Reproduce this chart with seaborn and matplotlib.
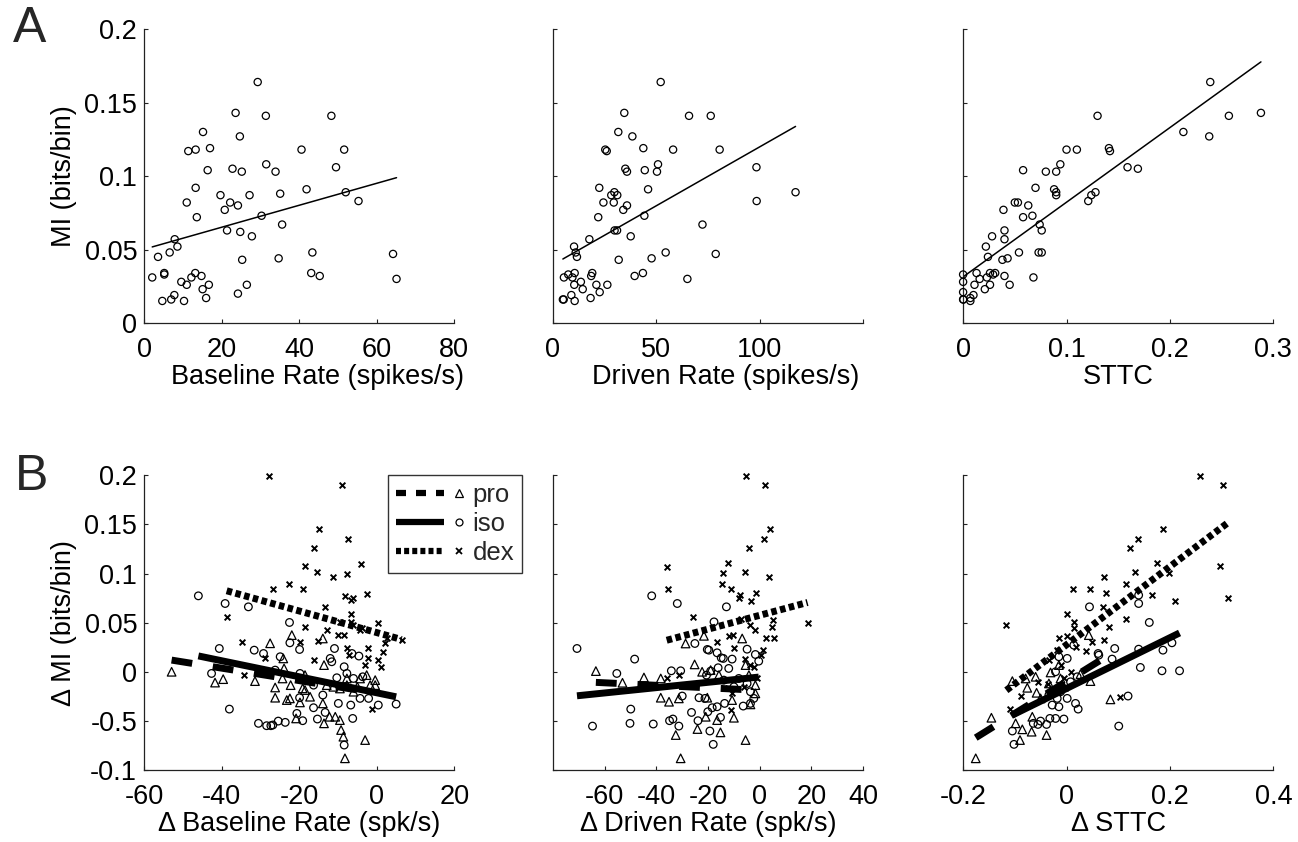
import matplotlib
matplotlib.use('Agg')
import matplotlib.pyplot as plt
from matplotlib.lines import Line2D
from matplotlib.legend_handler import HandlerBase
import numpy as np
import seaborn as sns

############### data: row A (MI vs. rate / STTC) ###############
base_rate = [2.1, 3.6, 4.7, 5.2, 5.2, 6.6, 7.0, 7.8, 7.9, 8.6, 9.6, 10.3, 11.0, 11.0, 11.4,
             12.2, 13.3, 13.3, 13.2, 13.6, 14.8, 15.2, 15.1, 16.0, 16.7, 16.4, 17.0, 19.7,
             20.8, 21.4, 22.2, 22.8, 23.6, 24.2, 24.2, 24.7, 24.8, 25.2, 25.3, 26.5, 27.2,
             27.8, 29.3, 30.3, 31.4, 31.5, 33.9, 34.7, 35.1, 35.6, 40.6, 41.9, 43.1, 43.4,
             45.3, 48.3, 49.5, 51.6, 52.0, 55.3, 64.2, 65.1]
base_mi = [0.031, 0.045, 0.015, 0.034, 0.033, 0.048, 0.016, 0.019, 0.057, 0.052, 0.028, 0.015,
           0.026, 0.082, 0.117, 0.031, 0.118, 0.092, 0.034, 0.072, 0.032, 0.130, 0.023, 0.017,
           0.026, 0.104, 0.119, 0.087, 0.077, 0.063, 0.082, 0.105, 0.143, 0.080, 0.020, 0.127,
           0.062, 0.103, 0.043, 0.026, 0.087, 0.059, 0.164, 0.073, 0.141, 0.108, 0.103, 0.044,
           0.088, 0.067, 0.118, 0.091, 0.034, 0.048, 0.032, 0.141, 0.106, 0.118, 0.089, 0.083,
           0.047, 0.030]

driven_rate = [4.8, 5.2, 5.3, 7.4, 8.9, 9.4, 10.2, 10.5, 10.3, 10.5, 11.0, 11.6, 13.5, 14.4,
               17.6, 18.2, 18.5, 19.0, 21.0, 21.9, 22.4, 22.6, 24.4, 25.3, 26.0, 26.3, 28.2,
               29.4, 29.7, 29.8, 31.0, 31.1, 31.6, 31.8, 34.0, 34.5, 35.0, 35.8, 35.8, 37.6,
               38.4, 39.5, 43.5, 43.7, 44.2, 44.4, 46.0, 47.7, 50.3, 50.8, 52.1, 54.5, 58.1,
               65.0, 65.8, 72.3, 76.3, 78.7, 80.6, 98.4, 98.5, 117.3]
driven_mi = [0.016, 0.016, 0.031, 0.033, 0.019, 0.031, 0.052, 0.034, 0.026, 0.015, 0.048, 0.045,
             0.028, 0.023, 0.057, 0.017, 0.032, 0.034, 0.026, 0.072, 0.092, 0.021, 0.082, 0.118,
             0.117, 0.026, 0.087, 0.082, 0.089, 0.063, 0.063, 0.087, 0.130, 0.043, 0.077, 0.143,
             0.105, 0.103, 0.080, 0.059, 0.127, 0.032, 0.034, 0.119, 0.073, 0.104, 0.091, 0.044,
             0.103, 0.108, 0.164, 0.048, 0.118, 0.030, 0.141, 0.067, 0.141, 0.047, 0.118, 0.106,
             0.083, 0.089]

sttc = [0.0, 0.0, 0.0, 0.0, 0.0003, 0.007, 0.007, 0.010, 0.011, 0.013, 0.016, 0.021, 0.022,
        0.023, 0.024, 0.026, 0.026, 0.028, 0.029, 0.031, 0.038, 0.039, 0.040, 0.040, 0.040,
        0.043, 0.045, 0.050, 0.053, 0.054, 0.058, 0.058, 0.063, 0.067, 0.068, 0.070, 0.073,
        0.074, 0.076, 0.076, 0.080, 0.088, 0.090, 0.090, 0.090, 0.094, 0.100, 0.110, 0.121,
        0.124, 0.128, 0.130, 0.141, 0.142, 0.159, 0.169, 0.213, 0.238, 0.239, 0.257, 0.288]
sttc_mi = [0.033, 0.028, 0.021, 0.016, 0.016, 0.015, 0.017, 0.019, 0.026, 0.034, 0.030, 0.023,
           0.052, 0.031, 0.045, 0.026, 0.034, 0.059, 0.033, 0.034, 0.043, 0.077, 0.057, 0.063,
           0.032, 0.044, 0.026, 0.082, 0.082, 0.048, 0.072, 0.104, 0.080, 0.073, 0.031, 0.092,
           0.048, 0.067, 0.048, 0.063, 0.103, 0.091, 0.103, 0.089, 0.087, 0.108, 0.118, 0.118,
           0.083, 0.087, 0.089, 0.141, 0.119, 0.117, 0.106, 0.105, 0.130, 0.127, 0.164, 0.141,
           0.143]

# regression lines (slope, intercept)
a_slope = [0.000748, 0.000802, 0.508]
a_icept = [0.0502, 0.0397, 0.0314]

############### data: row B (changes, per drug) ###############
# d baseline rate
b1_pro_x = [-52.9, -41.7, -39.6, -31.4, -27.5, -26.2, -26.2, -24.1, -23.9, -24.3, -23.2, -22.4,
            -21.9, -22.2, -20.8, -19.8, -19.1, -18.5, -17.2, -13.9, -13.6, -13.9, -13.6, -12.9,
            -12.2, -10.7, -9.5, -9.2, -8.6, -8.2, -7.7, -6.0, -4.3, -3.0, -2.6, -1.7, -0.4,
            -0.4, -18.5, -11.2, -9.5, -7.7, -5.0]
b1_pro_y = [0.0, -0.011, -0.0075, -0.0095, 0.029, -0.016, -0.0264, 0.0136, 0.0034, -0.0068,
            -0.0288, -0.0271, 0.0373, -0.0136, -0.0475, -0.0312, -0.0169, -0.0034, -0.0254,
            0.0339, 0.0068, -0.0322, -0.0525, -0.0136, -0.0458, -0.0458, -0.0492, -0.0593,
            -0.0661, -0.0881, -0.0068, -0.0203, -0.0068, -0.0695, -0.0034, -0.0136, -0.0085,
            -0.0136, -0.0186, -0.0153, -0.017, -0.0136, -0.0153]
b1_iso_x = [-46.0, -39.1, -42.6, -40.6, -38.0, -33.1, -31.6, -29.2, -30.5, -28.4, -27.3, -26.8,
            -25.4, -23.6, -26.2, -24.9, -22.5, -22.4, -19.9, -19.8, -20.6, -19.1, -19.9, -16.3,
            -15.3, -13.9, -13.3, -12.0, -11.6, -10.9, -10.3, -9.9, -8.4, -7.7, -6.7, -6.2,
            -6.4, -4.6, -3.6, -2.1, 0.4, 5.0, -8.4, -6.0, -4.3, -16.3]
b1_iso_y = [0.0773, 0.0695, -0.0017, 0.0237, -0.038, 0.0661, 0.022, 0.0186, -0.0525, -0.0549,
            -0.0549, -0.0542, -0.0502, -0.0515, 0.0017, 0.0153, 0.0502, 0.0295, 0.0227, -0.0017,
            -0.0424, -0.0498, -0.0264, -0.0366, -0.0481, -0.0237, -0.0414, 0.0136, 0.0102,
            0.0237, -0.0061, -0.0322, 0.0051, -0.0017, -0.0339, -0.0475, 0.0186, 0.016, -0.0051,
            -0.0271, -0.0339, -0.0329, -0.0746, -0.0068, -0.0271, -0.0136]
b1_dex_x = [-27.9, -9.0, -15.0, -7.3, -16.2, -4.0, -18.5, -15.5, -11.4, -7.6, -26.8, -22.6,
            -19.1, -2.6, -8.3, -6.7, -6.0, -38.7, -13.3, -6.7, -9.5, -6.6, 0.3, -18.5, -12.7,
            -3.9, -34.8, -28.8, -34.2, -19.8, -15.2, -9.9, -8.4, -7.7, -2.3, -2.3, 1.5, 0.3,
            1.1, 2.1, 2.6, 6.4, -16.3, -3.0, -1.1, -4.3, -6.0, -7.1]
b1_dex_y = [0.1993, 0.1898, 0.1458, 0.1349, 0.1261, 0.1102, 0.1075, 0.1017, 0.0966, 0.1, 0.0847,
            0.0892, 0.0841, 0.079, 0.0773, 0.0729, 0.0746, 0.0553, 0.0661, 0.0593, 0.0502,
            0.0508, 0.0492, 0.0458, 0.0424, 0.0441, 0.0305, 0.0136, -0.0034, 0.0305, 0.0312,
            0.0373, 0.0373, 0.0244, 0.0237, 0.0136, 0.0203, 0.0119, 0.0051, 0.0288, 0.0339,
            0.0322, 0.0119, 0.0068, -0.038, 0.0424, 0.0475, 0.0169]

# d driven rate
b2_pro_x = [-63.4, -53.1, -44.8, -38.3, -38.3, -35.1, -31.3, -28.7, -25.2, -22.3, -21.6, -20.3,
            -20.9, -24.1, -32.5, -30.6, -16.5, -15.2, -10.0, -10.7, -6.8, -5.5, -3.6, -1.7,
            -5.5, -1.7, -19.0, -15.8, -4.2]
b2_pro_y = [0.0007, -0.0112, -0.0058, -0.0068, -0.0264, -0.0305, -0.0271, 0.0288, 0.0075, 0.0,
            0.0366, -0.0264, -0.0458, -0.0583, -0.0644, -0.0881, -0.0492, -0.0617, -0.0468,
            -0.0288, 0.0339, -0.0695, -0.0332, -0.022, 0.0068, -0.0136, 0.0017, -0.0034, -0.0034]
b2_iso_x = [-70.7, -64.7, -55.3, -48.4, -49.9, -50.2, -41.2, -41.8, -31.9, -34.2, -30.6, -30.0,
            -31.3, -34.9, -33.6, -26.4, -23.9, -23.5, -21.2, -25.1, -17.7, -20.3, -19.7, -16.5,
            -14.9, -14.1, -10.7, -12.0, -16.1, -19.0, -12.9, -20.6, -20.1, -18.4, -16.5, -13.6,
            -19.3, -18.0, -15.2, -6.4, -4.9, -1.7, -0.4, -4.9, -3.6, -10.0, -8.1, -2.3, -13.9, -3.6]
b2_iso_y = [0.0237, -0.0553, -0.0017, 0.0129, -0.038, -0.0525, -0.0532, 0.0773, 0.0695, 0.001,
            0.001, -0.0247, -0.0553, -0.0498, -0.0481, -0.0414, -0.0498, -0.0264, -0.0271,
            0.0288, 0.0508, 0.0227, 0.022, 0.0193, 0.0142, 0.0136, 0.0129, 0.0034, 0.0041,
            0.0007, 0.0661, -0.0034, -0.0407, -0.0366, -0.0356, -0.0322, -0.0603, -0.0739,
            -0.0464, -0.0349, 0.023, 0.0176, 0.0108, -0.0119, -0.0203, -0.0153, -0.0068, -0.0271,
            -0.0085, -0.0322]
b2_dex_x = [-5.3, 1.9, 4.1, 1.8, -4.0, -12.3, -14.3, -5.9, -36.0, -35.5, -14.8, -11.3, 3.7, -8.1,
            -7.7, -1.3, -3.2, -25.7, -7.1, -3.6, -1.7, 5.1, 4.7, 5.7, 2.6, 18.5, -16.5, -11.9,
            -10.3, -9.8, -5.8, -3.6, 1.2, 0.3, -35.8, -31.3, -10.7, -11.3, -2.1, -6.2, -1.0, -13.9]
b2_dex_y = [0.1993, 0.1898, 0.1458, 0.1349, 0.1261, 0.1108, 0.1007, 0.1017, 0.1068, 0.0847,
            0.0892, 0.0841, 0.0966, 0.0756, 0.078, 0.0797, 0.0722, 0.0553, 0.0542, 0.0481,
            0.0424, 0.0525, 0.0451, 0.0339, 0.0339, 0.0492, 0.0305, 0.0366, 0.0373, 0.0244,
            0.0125, 0.0068, 0.022, 0.0169, -0.0068, -0.0034, -0.022, -0.039, 0.0044, -0.0153,
            -0.0068, -0.0163]

# d STTC
b3_pro_x = [-0.1756, -0.1453, -0.09, -0.0984, -0.0855, -0.0675, -0.0386, -0.0662, -0.1048,
            -0.0759, -0.0579, -0.0598, -0.0309, -0.0341, -0.0148, 0.0431, 0.027, 0.0463, 0.0849,
            -0.0116, -0.0051, -0.0502, -0.0791]
b3_pro_y = [-0.0881, -0.0468, -0.0695, -0.0525, -0.0586, -0.061, -0.0644, -0.0458, -0.0095,
            -0.0163, -0.0214, -0.0051, -0.0007, -0.0119, 0.0068, 0.0373, -0.0024, -0.0095,
            -0.0281, -0.0068, -0.0153, -0.0271, -0.0068]
b3_iso_x = [0.0444, 0.1395, 0.1395, 0.1601, 0.0932, 0.1395, 0.1865, 0.2039, 0.1428, 0.1846,
            0.2186, 0.119, 0.101, 0.0881, 0.0624, 0.0611, 0.0174, 0.0225, -0.0051, -0.0148,
            -0.0212, -0.0322, -0.0386, -0.0502, -0.0553, -0.0643, -0.1048, -0.1016, -0.0277,
            -0.0341, -0.018, 0.0013, -0.0116, 0.0077, 0.0141, 0.0013, -0.0148, -0.0212, 0.0206]
b3_iso_y = [0.0661, 0.078, 0.0695, 0.0502, 0.0237, 0.023, 0.022, 0.0295, 0.0044, 0.001, 0.001,
            -0.0247, -0.0553, 0.0129, 0.0169, 0.0186, -0.0322, -0.038, -0.0481, -0.0356, -0.0475,
            -0.0475, -0.0536, -0.0502, -0.0536, -0.0525, -0.0603, -0.0739, -0.0339, -0.0237,
            -0.0271, -0.0271, -0.0203, -0.0102, 0.0271, 0.0136, 0.0153, 0.0, -0.0051]
b3_dex_x = [0.2585, 0.3035, 0.1865, 0.1383, 0.1235, 0.1749, 0.1331, 0.1974, 0.2971, 0.3132,
            0.209, 0.0733, 0.1151, 0.1653, 0.0765, 0.0129, 0.045, 0.0701, 0.1151, 0.0817, 0.0733,
            -0.1164, 0.0, 0.0141, 0.0141, 0.0495, 0.0386, -0.0148, 0.0013, 0.0174, -0.0887,
            -0.1093, -0.0553, -0.036, 0.1042, -0.0341, -0.018, -0.0116, 0.0077, -0.0051]
b3_dex_y = [0.1993, 0.1898, 0.1458, 0.1349, 0.1261, 0.1108, 0.1017, 0.101, 0.1075, 0.0746,
            0.0722, 0.0966, 0.0892, 0.078, 0.0797, 0.0841, 0.0847, 0.0661, 0.0542, 0.0451,
            0.0322, 0.0481, 0.0593, 0.0502, 0.0441, 0.0305, 0.0214, 0.0346, 0.0366, 0.0254,
            -0.0247, -0.038, -0.0102, -0.0129, -0.0254, 0.0119, 0.022, 0.0068, 0.0, -0.0068]

# per-drug regression lines (one value per B panel)
pro_slope = [-0.000635, -0.000128, 0.327]
pro_icept = [-0.0217, -0.0189, -0.0097]
iso_slope = [-0.000816, 0.000271, 0.2585]
iso_icept = [-0.0214, -0.0053, -0.017]
dex_slope = [-0.0011, 0.000706, 0.398]
dex_icept = [0.0399, 0.0575, 0.0275]

drugs = ['pro', 'iso', 'dex']

############### style ###############
sns.set_style('ticks')
plt.rcParams['font.family'] = ['Liberation Sans', 'DejaVu Sans']
plt.rcParams.update({
    'xtick.direction': 'in', 'ytick.direction': 'in',
    'xtick.major.size': 3, 'ytick.major.size': 3,
    'xtick.major.width': 0.8, 'ytick.major.width': 0.8,
    'xtick.major.pad': 10, 'ytick.major.pad': 5,
    'axes.linewidth': 0.9, 'axes.edgecolor': '#222222',
    'xtick.color': '#222222', 'ytick.color': '#222222',
    'xtick.labelcolor': 'black', 'ytick.labelcolor': 'black',
    'xtick.labelsize': 19.5, 'ytick.labelsize': 19.5,
    'axes.labelsize': 19.5, 'axes.labelcolor': 'black',
})

marker_kw = {
    'pro': dict(marker='^', s=38, facecolor='none', edgecolor='k', linewidth=0.9),
    'iso': dict(marker='o', s=30, facecolor='none', edgecolor='k', linewidth=0.9),
    'dex': dict(marker='x', s=17, color='k', linewidth=1.4),
}
line_kw = {
    'pro': dict(lw=5, ls=(0, (3, 3)), dash_capstyle='butt'),
    'iso': dict(lw=5, ls='-', solid_capstyle='butt'),
    'dex': dict(lw=5, ls=(0, (0.8, 0.5)), dash_capstyle='butt'),
}


def draw_fit(ax, x, slope, icept, **kw):
    xs = np.array([np.min(x), np.max(x)])
    ax.plot(xs, slope * xs + icept, color='k', **kw)


class LineMarkerHandler(HandlerBase):
    # line on the left part of the handle box, marker on the right
    def create_artists(self, legend, orig_handle, xdescent, ydescent, width, height, fontsize, trans):
        y = height / 2 - ydescent
        seg = Line2D([-xdescent, -xdescent + 0.7 * width], [y, y])
        seg.update_from(orig_handle)
        seg.set_marker('None')
        dot = Line2D([-xdescent + 0.92 * width], [y])
        dot.update_from(orig_handle)
        dot.set_linestyle('None')
        seg.set_transform(trans)
        dot.set_transform(trans)
        return [seg, dot]


fig = plt.figure(figsize=(12.98, 8.42), dpi=100)
lefts = [0.111, 0.426, 0.742]
W = 0.239
axA = [fig.add_axes([l, 0.6164, W, 0.349]) for l in lefts]
axB = [fig.add_axes([l, 0.0855, W, 0.350]) for l in lefts]

# ---- row A ----
a_x = [base_rate, driven_rate, sttc]
a_y = [base_mi, driven_mi, sttc_mi]
for i, ax in enumerate(axA):
    sns.scatterplot(x=a_x[i], y=a_y[i], ax=ax, clip_on=False, zorder=3, **dict(marker_kw['iso'], s=27))
    draw_fit(ax, a_x[i], a_slope[i], a_icept[i], lw=1.1)
    ax.set_ylim(0, 0.2)
    ax.set_yticks([0, 0.05, 0.1, 0.15, 0.2])
    if i == 0:
        ax.set_yticklabels(['0', '0.05', '0.1', '0.15', '0.2'])
        ax.set_ylabel('MI (bits/bin)', labelpad=5)
    else:
        ax.set_yticklabels([])

axA[0].set_xlim(0, 80)
axA[0].set_xticks([0, 20, 40, 60, 80])
axA[0].set_xticklabels(['0', '20', '40', '60', '80'])
axA[1].set_xlim(0, 150)
axA[1].set_xticks([0, 50, 100, 150])
axA[1].set_xticklabels(['0', '50', '100', ''])
axA[2].set_xlim(0, 0.3)
axA[2].set_xticks([0, 0.1, 0.2, 0.3])
axA[2].set_xticklabels(['0', '0.1', '0.2', '0.3'])
axA[0].set_xlabel('Baseline Rate (spikes/s)', labelpad=1)
axA[1].set_xlabel('Driven Rate (spikes/s)', labelpad=1)
axA[2].set_xlabel('STTC', labelpad=1)
axA[0].xaxis.label.set_x(0.558)
axA[1].xaxis.label.set_x(0.558)

# ---- row B ----
b_x = [dict(pro=b1_pro_x, iso=b1_iso_x, dex=b1_dex_x),
       dict(pro=b2_pro_x, iso=b2_iso_x, dex=b2_dex_x),
       dict(pro=b3_pro_x, iso=b3_iso_x, dex=b3_dex_x)]
b_y = [dict(pro=b1_pro_y, iso=b1_iso_y, dex=b1_dex_y),
       dict(pro=b2_pro_y, iso=b2_iso_y, dex=b2_dex_y),
       dict(pro=b3_pro_y, iso=b3_iso_y, dex=b3_dex_y)]
slopes = dict(pro=pro_slope, iso=iso_slope, dex=dex_slope)
icepts = dict(pro=pro_icept, iso=iso_icept, dex=dex_icept)

for i, ax in enumerate(axB):
    for d in drugs:
        sns.scatterplot(x=b_x[i][d], y=b_y[i][d], ax=ax, clip_on=False, zorder=2, **marker_kw[d])
    for d in drugs:
        draw_fit(ax, b_x[i][d], slopes[d][i], icepts[d][i], zorder=4, **line_kw[d])
    ax.set_ylim(-0.1, 0.2)
    ax.set_yticks([-0.1, -0.05, 0, 0.05, 0.1, 0.15, 0.2])
    if i == 0:
        ax.set_yticklabels(['-0.1', '-0.5', '0', '0.05', '0.1', '0.15', '0.2'])
        ax.set_ylabel('\u0394 MI (bits/bin)', labelpad=5)
    else:
        ax.set_yticklabels([])

axB[0].set_xlim(-60, 20)
axB[0].set_xticks([-60, -40, -20, 0, 20])
axB[0].set_xticklabels(['-60', '-40', '-20', '0', '20'])
axB[1].set_xlim(-80, 40)
axB[1].set_xticks([-60, -40, -20, 0, 20, 40])
axB[1].set_xticklabels(['-60', '-40', '-20', '0', '20', '40'])
axB[2].set_xlim(-0.2, 0.4)
axB[2].set_xticks([-0.2, 0, 0.2, 0.4])
axB[2].set_xticklabels(['-0.2', '0', '0.2', '0.4'])
axB[0].set_xlabel('\u0394 Baseline Rate (spk/s)', labelpad=1)
axB[1].set_xlabel('\u0394 Driven Rate (spk/s)', labelpad=1)
axB[2].set_xlabel('\u0394 STTC', labelpad=1)

# legend: line sample followed by the marker
handles = [
    Line2D([], [], color='k', lw=4.5, ls=(0, (1.6, 1.6)), dash_capstyle='butt',
           marker='^', ms=5.5, mfc='none', mec='k', mew=0.9),
    Line2D([], [], color='k', lw=4.5, ls='-', solid_capstyle='butt',
           marker='o', ms=5, mfc='none', mec='k', mew=0.9),
    Line2D([], [], color='k', lw=4.5, ls=(0, (0.8, 0.5)), dash_capstyle='butt',
           marker='x', ms=4, mec='k', mew=1.3),
]
leg = axB[0].legend(handles, drugs, handler_map={Line2D: LineMarkerHandler()},
                    loc='upper left', bbox_to_anchor=(0.786, 1.0), borderaxespad=0,
                    frameon=True, fancybox=False, edgecolor='#333333', framealpha=1,
                    fontsize=18.5, handlelength=2.7, handletextpad=0.3,
                    labelspacing=0.2, borderpad=0.3)
leg.get_frame().set_linewidth(1.0)

sns.despine(fig=fig)

fig.text(0.010, 0.993, 'A', fontsize=36, va='top', ha='left')
fig.text(0.0116, 0.461, 'B', fontsize=36, va='top', ha='left')

fig.savefig('out.png', dpi=100)
